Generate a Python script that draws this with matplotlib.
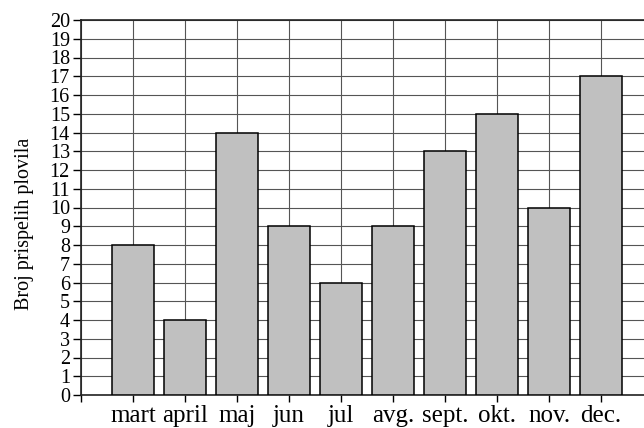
import matplotlib.pyplot as plt
import numpy as np

months = ['mart', 'april', 'maj', 'jun', 'jul', 'avg.', 'sept.', 'okt.', 'nov.', 'dec.']
counts = [8, 4, 14, 9, 6, 9, 13, 15, 10, 17]
y_ticks = list(range(0, 21))

plt.rcParams['font.family'] = ['Liberation Serif', 'DejaVu Serif']

fig = plt.figure(figsize=(6.44, 4.28), dpi=100)
ax = fig.add_axes([81 / 644, 33 / 428, 572 / 644, 375 / 428])

x = np.arange(1, len(months) + 1)
ax.bar(x, counts, width=0.79, color='#c0c0c0', edgecolor='black',
       linewidth=1.1, zorder=3)

ax.set_xlim(0, 11)
ax.set_ylim(0, 20)
ax.set_xticks(np.arange(0, 11))
ax.set_xticklabels([''] + months, fontsize=18)
ax.set_yticks(y_ticks)
ax.set_yticklabels([str(v) for v in y_ticks], fontsize=14.5)

ax.grid(True, color='#555555', linewidth=0.8, zorder=0)
ax.set_axisbelow(True)

for side in ['top', 'left', 'bottom']:
    ax.spines[side].set_linewidth(1.2)
    ax.spines[side].set_color('#222222')
ax.spines['right'].set_visible(False)

ax.tick_params(axis='y', direction='out', length=6, width=1.0, pad=2)
ax.tick_params(axis='x', direction='out', length=5, width=1.0, pad=2.5)

ax.set_ylabel('Broj prispelih plovila', fontsize=14.5)
ax.yaxis.set_label_coords(-0.083, 0.457)

fig.savefig('out.png', dpi=100)
